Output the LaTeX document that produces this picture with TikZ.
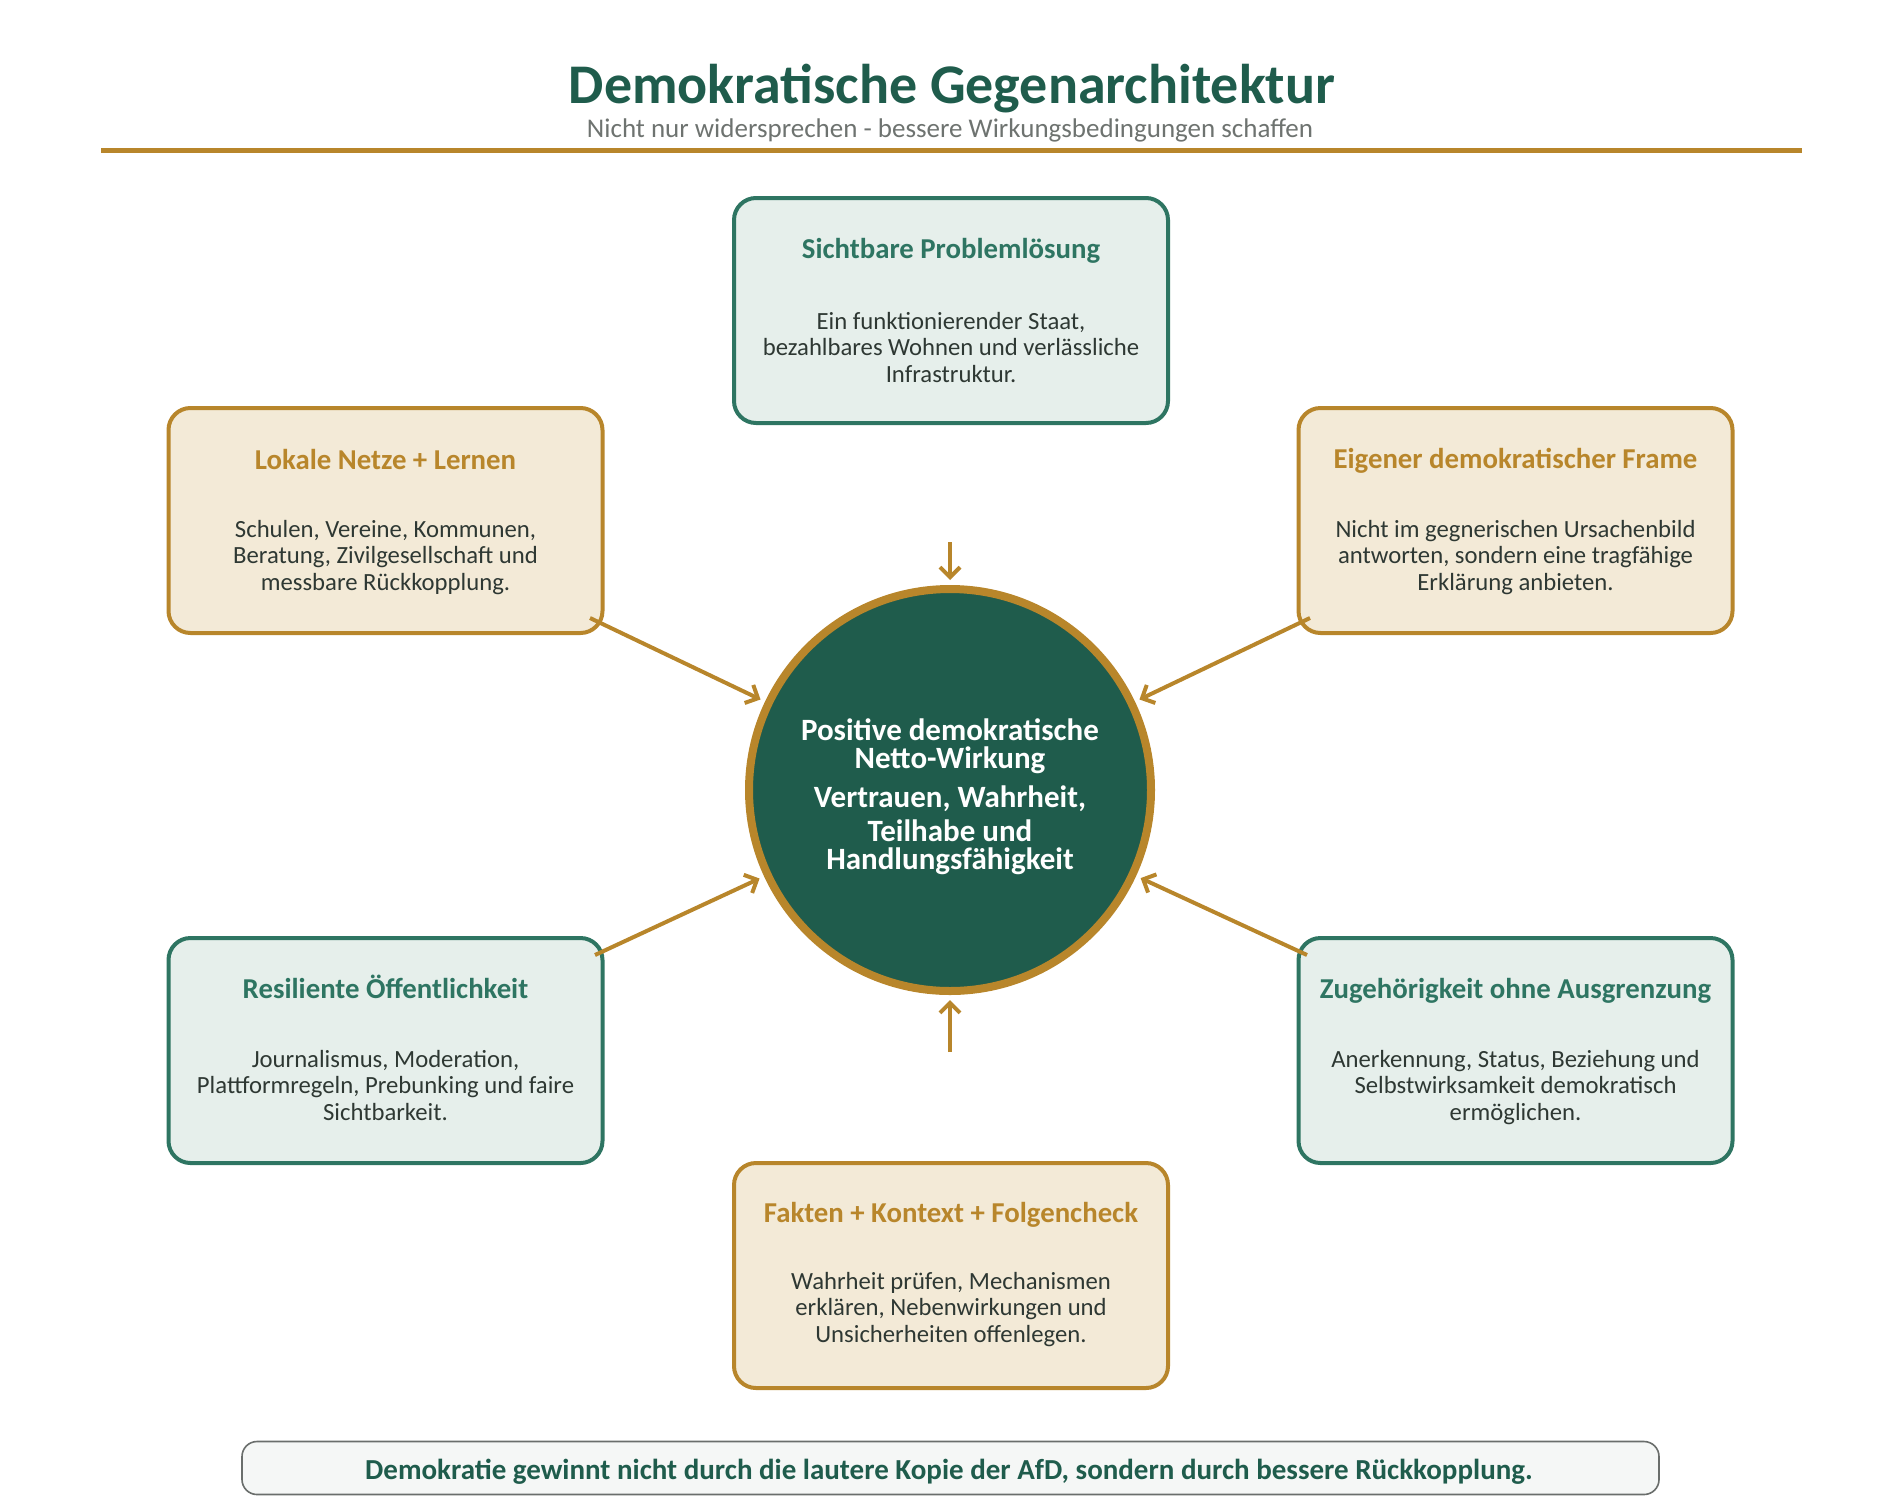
\documentclass[tikz,border=0pt]{standalone}
\usepackage{fontspec}
\setmainfont{Carlito}
\usetikzlibrary{arrows.meta}
\definecolor{dkgreen}{HTML}{1F5C4C}
\definecolor{tealgreen}{HTML}{2E7562}
\definecolor{gold}{HTML}{B8862B}
\definecolor{lightgreen}{HTML}{E6EFEB}
\definecolor{lightgold}{HTML}{F3EAD7}
\definecolor{bodytext}{HTML}{2E3833}
\definecolor{subgray}{HTML}{6E7370}
\definecolor{bannerfill}{HTML}{F5F7F6}
\definecolor{bannerdraw}{HTML}{6A6E6C}
\tikzset{
  card/.style={rectangle, rounded corners=11pt, line width=2pt,
    minimum width=217pt, minimum height=112.5pt, inner sep=0pt},
  greencard/.style={card, draw=tealgreen, fill=lightgreen},
  goldcard/.style={card, draw=gold, fill=lightgold},
  cardtitle/.style={anchor=base, font=\fontsize{14.4}{16}\selectfont\bfseries, inner sep=0pt},
  greentitle/.style={cardtitle, text=tealgreen},
  goldtitle/.style={cardtitle, text=gold},
  cardbody/.style={anchor=base, align=center, text=bodytext, inner sep=0pt,
    font=\fontsize{12.35}{13.4}\selectfont},
  flow/.style={draw=gold, line width=2pt, -{Straight Barb[length=5pt,width=10pt]}},
}
\begin{document}
\begin{tikzpicture}[x=0.5pt,y=-0.5pt]
\useasboundingbox (0,0) rectangle (1900,1510);

% header
\node[anchor=base, inner sep=0pt, text=dkgreen, font=\fontsize{28}{32}\selectfont\bfseries] (title) at (952,103) {Demokratische Gegenarchitektur};
\node[anchor=base, inner sep=0pt, text=subgray, font=\fontsize{13.5}{15}\selectfont] (subtitle) at (950,137) {Nicht nur widersprechen - bessere Wirkungsbedingungen schaffen};
\coordinate (ruleL) at (101,150.5);
\coordinate (ruleR) at (1802,150.5);
\draw[gold, line width=2.5pt] (ruleL) -- (ruleR);

% cards
\node[greencard] (top) at (951,310.5) {};
\node[goldcard] (lokal) at (385.5,520.5) {};
\node[goldcard] (frame) at (1515.5,520.5) {};
\node[greencard] (resil) at (385.5,1050.5) {};
\node[greencard] (zugeh) at (1515.5,1050.5) {};
\node[goldcard] (fakten) at (951,1275.5) {};

% card texts (body nodes: base = last line)
\node[greentitle] (topT) at ([yshift=-31pt]top.north) {Sichtbare Problemlösung};
\node[cardbody] (topB) at ([yshift=-93.3pt]top.north) {Ein funktionierender Staat,\\bezahlbares Wohnen und verlässliche\\Infrastruktur.};

\node[goldtitle] (lokalT) at ([yshift=-31.5pt]lokal.north) {Lokale Netze + Lernen};
\node[cardbody] (lokalB) at ([yshift=-92.3pt]lokal.north) {Schulen, Vereine, Kommunen,\\Beratung, Zivilgesellschaft und\\messbare Rückkopplung.};

\node[goldtitle] (frameT) at ([yshift=-31pt]frame.north) {Eigener demokratischer Frame};
\node[cardbody] (frameB) at ([yshift=-92.3pt]frame.north) {Nicht im gegnerischen Ursachenbild\\antworten, sondern eine tragfähige\\Erklärung anbieten.};

\node[greentitle] (resilT) at ([yshift=-31pt]resil.north) {Resiliente Öffentlichkeit};
\node[cardbody] (resilB) at ([yshift=-92.3pt]resil.north) {Journalismus, Moderation,\\Plattformregeln, Prebunking und faire\\Sichtbarkeit.};

\node[greentitle] (zugehT) at ([yshift=-31pt]zugeh.north) {Zugehörigkeit ohne Ausgrenzung};
\node[cardbody] (zugehB) at ([yshift=-92.3pt]zugeh.north) {Anerkennung, Status, Beziehung und\\Selbstwirksamkeit demokratisch\\ermöglichen.};

\node[goldtitle] (faktenT) at ([yshift=-30.5pt]fakten.north) {Fakten + Kontext + Folgencheck};
\node[cardbody] (faktenB) at ([yshift=-90.8pt]fakten.north) {Wahrheit prüfen, Mechanismen\\erklären, Nebenwirkungen und\\Unsicherheiten offenlegen.};

% centre circle
\node[circle, draw=gold, fill=dkgreen, line width=4pt, minimum size=201pt, inner sep=0pt, outer sep=4.5pt] (circ) at (950,790) {};
\node[anchor=base, align=center, text=white, inner sep=0pt, font=\fontsize{15.5}{14}\selectfont\bfseries] (circA) at (950,768) {Positive demokratische\\Netto-Wirkung};
\node[anchor=base, align=center, text=white, inner sep=0pt, font=\fontsize{15.5}{13.7}\selectfont\bfseries] (circB) at (950,869) {Vertrauen, Wahrheit,\\[3.3pt]Teilhabe und\\Handlungsfähigkeit};

% arrows
\coordinate (sTop) at (950,542);
\coordinate (sBot) at (950,1052);
\coordinate (sUL) at (590,618);
\coordinate (sUR) at (1310,618);
\coordinate (sLL) at (595,955);
\coordinate (sLR) at (1307,955);
\draw[flow] (sTop) -- (circ);
\draw[flow] (sBot) -- (circ);
\draw[flow] (sUL) -- (circ);
\draw[flow] (sUR) -- (circ);
\draw[flow] (sLL) -- (circ);
\draw[flow] (sLR) -- (circ);

% banner
\node[rectangle, rounded corners=7.5pt, draw=bannerdraw, line width=0.8pt, fill=bannerfill,
  minimum width=708.5pt, minimum height=26.5pt, inner sep=0pt] (banner) at (950.5,1468) {};
\node[anchor=base, inner sep=0pt, text=dkgreen, font=\fontsize{14.5}{16}\selectfont\bfseries] (bannerT) at (949,1479) {Demokratie gewinnt nicht durch die lautere Kopie der AfD, sondern durch bessere Rückkopplung.};
\end{tikzpicture}
\end{document}
